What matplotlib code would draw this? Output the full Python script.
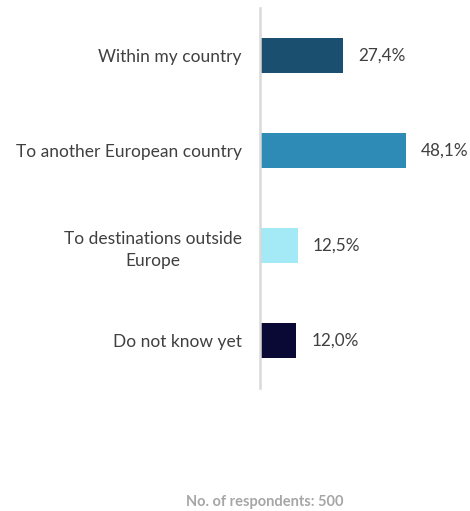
import matplotlib
matplotlib.use("Agg")
from matplotlib import pyplot as plt

# Where respondents plan to travel
categories = ["Within my country", "To another European country",
              "To destinations outside\nEurope", "Do not know yet"]
shares = [27.4, 48.1, 12.5, 12.0]
barColors = ["#1a4f70", "#2e8bb5", "#a3e9f6", "#0a0935"]
respondents = 500

plt.rcParams["font.family"] = ["Lato", "DejaVu Sans"]

fig = plt.figure(figsize=(4.7, 5.11), dpi=100)
ax = fig.add_axes([0.5532, 0.2407, 0.40, 0.7436])

ypos = list(range(len(categories)))
ax.barh(ypos, shares, height=0.36, color=barColors, zorder=2)
ax.set_ylim(len(categories) - 0.5, -0.5)
ax.set_xlim(0, 62)

for y, v in zip(ypos, shares):
    ax.text(v + 4.9, y, f"{v:.1f}%".replace(".", ","), va="center", ha="left",
            fontsize=12.3, color="#404040")

ax.set_yticks(ypos)
ax.set_yticklabels(categories, fontsize=12.5, color="#404040",
                   multialignment="center", linespacing=1.45)
ax.tick_params(axis="y", length=0, pad=13)
ax.set_xticks([])
for side in ["top", "right", "bottom"]:
    ax.spines[side].set_visible(False)
ax.spines["left"].set_color("#d9d9d9")
ax.spines["left"].set_linewidth(1.8)

fig.text(0.564, 0.003, f"No. of respondents: {respondents}", ha="center", va="bottom",
         fontsize=10.5, fontweight="bold", color="#a6a6a6")

fig.savefig("out.png", dpi=100)
plt.close(fig)
